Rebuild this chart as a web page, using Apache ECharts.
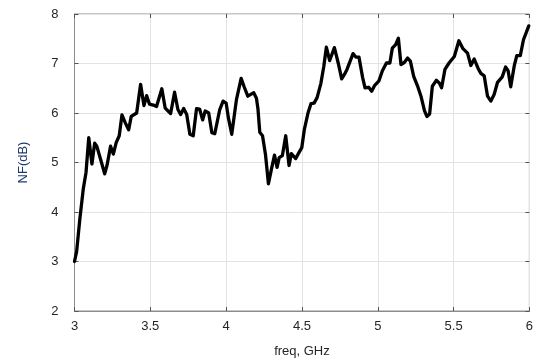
<!DOCTYPE html>
<html>
<head>
<meta charset="utf-8">
<script src="https://cdn.jsdelivr.net/npm/echarts@6/dist/echarts.min.js"></script>
<style>html,body{margin:0;padding:0;background:#fff;}#c{width:536px;height:363px;}</style>
</head>
<body>
<div id="c"></div>
<script>
const freq = [3.0,3.014,3.035,3.058,3.076,3.094,3.115,3.133,3.147,3.16,3.178,3.199,3.215,3.238,3.256,3.275,3.295,3.313,3.335,3.357,3.374,3.41,3.436,3.458,3.476,3.494,3.52,3.541,3.576,3.598,3.634,3.66,3.682,3.7,3.72,3.74,3.761,3.783,3.805,3.825,3.845,3.862,3.885,3.906,3.925,3.958,3.98,4.0,4.015,4.037,4.068,4.099,4.12,4.143,4.16,4.182,4.2,4.21,4.222,4.24,4.26,4.279,4.3,4.319,4.336,4.35,4.371,4.393,4.415,4.43,4.459,4.48,4.499,4.516,4.54,4.56,4.58,4.6,4.625,4.644,4.661,4.683,4.714,4.74,4.762,4.78,4.797,4.837,4.855,4.876,4.9,4.916,4.94,4.96,4.98,5.008,5.03,5.057,5.08,5.096,5.118,5.136,5.153,5.175,5.197,5.215,5.237,5.262,5.285,5.308,5.324,5.342,5.36,5.386,5.407,5.421,5.443,5.47,5.505,5.535,5.562,5.592,5.614,5.636,5.662,5.68,5.702,5.724,5.746,5.768,5.79,5.821,5.843,5.86,5.877,5.9,5.917,5.94,5.961,5.996];
const nf = [3.0,3.2,3.85,4.47,4.8,5.5,4.97,5.39,5.33,5.3,5.0,4.77,4.95,5.33,5.17,5.4,5.54,5.96,5.8,5.66,5.93,6.0,6.58,6.15,6.35,6.18,6.16,6.13,6.49,6.1,5.99,6.42,6.07,5.97,6.09,5.97,5.57,5.54,6.09,6.08,5.86,6.04,6.0,5.6,5.58,6.07,6.24,6.2,5.9,5.57,6.27,6.7,6.52,6.34,6.37,6.41,6.3,6.08,5.61,5.54,5.15,4.57,4.88,5.15,4.9,5.1,5.14,5.54,4.94,5.18,5.08,5.2,5.3,5.67,6.0,6.19,6.2,6.31,6.6,6.94,7.33,7.06,7.32,7.0,6.69,6.78,6.88,7.2,7.13,7.13,6.72,6.51,6.52,6.44,6.56,6.65,6.85,7.01,7.01,7.31,7.38,7.51,6.98,7.02,7.11,7.05,6.74,6.55,6.34,6.05,5.93,5.98,6.54,6.66,6.6,6.51,6.88,7.01,7.14,7.46,7.3,7.21,6.96,7.09,6.9,6.8,6.75,6.34,6.24,6.38,6.62,6.73,6.93,6.85,6.53,6.95,7.16,7.16,7.48,7.76];
const xTicks = [3,3.5,4,4.5,5,5.5,6];
const yTicks = [2,3,4,5,6,7,8];

const data = freq.map((f,i)=>[f,nf[i]]);
const chart = echarts.init(document.getElementById('c'), null, {renderer:'canvas'});
const font = 'Liberation Sans, Arial, sans-serif';
const lbl = {color:'#262626', fontFamily:font, fontSize:13};
chart.setOption({
  animation:false,
  backgroundColor:'#fff',
  grid:{left:74.5, right:6.5, top:14, bottom:50, show:true, borderColor:'#8c8c8c', borderWidth:1},
  xAxis:[{
    type:'value', min:xTicks[0], max:xTicks[xTicks.length-1], interval:0.5,
    name:'freq, GHz', nameLocation:'middle', nameGap:34,
    nameTextStyle:{color:'#262626', fontFamily:font, fontSize:13},
    axisLine:{show:true, lineStyle:{color:'#8c8c8c'}},
    axisTick:{show:true, inside:true, length:4, lineStyle:{color:'#555'}},
    axisLabel:{...lbl, margin:9},
    splitLine:{show:true, lineStyle:{color:'#e3e3e3', width:1}}
  },{
    type:'value', position:'top', min:3, max:6, interval:0.5,
    axisLine:{show:false}, axisTick:{show:true, inside:true, length:4, lineStyle:{color:'#555'}},
    axisLabel:{show:false}, splitLine:{show:false}
  }],
  yAxis:[{
    type:'value', min:yTicks[0], max:yTicks[yTicks.length-1], interval:1,
    name:'NF(dB)', nameLocation:'middle', nameGap:45,
    nameTextStyle:{color:'#1f3b6e', fontFamily:font, fontSize:13},
    axisLine:{show:true, lineStyle:{color:'#8c8c8c'}},
    axisTick:{show:true, inside:true, length:4, lineStyle:{color:'#555'}},
    axisLabel:{...lbl, margin:16},
    splitLine:{show:true, lineStyle:{color:'#e3e3e3', width:1}}
  },{
    type:'value', position:'right', min:2, max:8, interval:1,
    axisLine:{show:false}, axisTick:{show:true, inside:true, length:4, lineStyle:{color:'#555'}},
    axisLabel:{show:false}, splitLine:{show:false}
  }],
  series:[{
    type:'line', data:data, showSymbol:false, symbol:'none',
    lineStyle:{color:'#000', width:3.3, join:'round', cap:'round'},
    z:5
  }]
});
</script>
</body>
</html>
